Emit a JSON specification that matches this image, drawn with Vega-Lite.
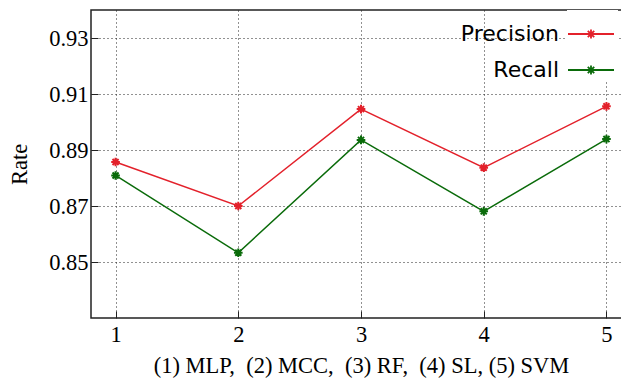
{
  "$schema": "https://vega.github.io/schema/vega-lite/v6.json",
  "autosize": {"type": "none"},
  "padding": {"left": 91, "top": 10, "right": 0, "bottom": 60},
  "width": 540,
  "height": 308,
  "background": "white",
  "config": {
    "view": {"stroke": "#222", "strokeWidth": 1.5},
    "axis": {
      "labelFont": "Liberation Serif",
      "titleFont": "Liberation Serif",
      "labelFontSize": 22.5,
      "titleFontSize": 22.5,
      "labelColor": "black",
      "titleColor": "black",
      "titleFontWeight": "normal",
      "domain": false,
      "grid": true,
      "gridDash": [1, 3],
      "gridColor": "#222",
      "gridWidth": 1,
      "tickColor": "#222",
      "tickSize": -7,
      "tickWidth": 1
    }
  },
  "data": {
    "values": [
      {"model": 1, "series": "Precision", "rate": 0.8857},
      {"model": 2, "series": "Precision", "rate": 0.8700},
      {"model": 3, "series": "Precision", "rate": 0.9046},
      {"model": 4, "series": "Precision", "rate": 0.8837},
      {"model": 5, "series": "Precision", "rate": 0.9056},
      {"model": 1, "series": "Recall", "rate": 0.8809},
      {"model": 2, "series": "Recall", "rate": 0.8533},
      {"model": 3, "series": "Recall", "rate": 0.8936},
      {"model": 4, "series": "Recall", "rate": 0.8681},
      {"model": 5, "series": "Recall", "rate": 0.8939}
    ]
  },
  "encoding": {
    "x": {
      "field": "model", "type": "quantitative",
      "scale": {"domain": [0.8, 5.2], "nice": false, "zero": false},
      "axis": {"values": [1, 2, 3, 4, 5], "format": "d", "labelPadding": 12,
               "title": "(1) MLP,\u00a0 (2) MCC,\u00a0 (3) RF,\u00a0 (4) SL, (5) SVM", "titlePadding": 9}
    },
    "y": {
      "field": "rate", "type": "quantitative",
      "scale": {"domain": [0.83, 0.94], "nice": false, "zero": false},
      "axis": {"values": [0.85, 0.87, 0.89, 0.91, 0.93], "format": ".2f", "labelPadding": 10,
               "title": "Rate", "titlePadding": 17}
    },
    "color": {
      "field": "series", "type": "nominal",
      "scale": {"domain": ["Precision", "Recall"], "range": ["#e3212b", "#0a6b0a"]},
      "legend": {
        "title": null,
        "orient": "none",
        "legendX": 476,
        "legendY": 0,
        "symbolType": "M-1,0H1M0,-0.2V0.2M-0.2,0H0.2M-0.14,-0.14L0.14,0.14M-0.14,0.14L0.14,-0.14",
        "symbolSize": 2116,
        "symbolStrokeWidth": 1.8,
        "symbolOpacity": 1,
        "rowPadding": 1,
        "labelAlign": "right",
        "labelOffset": -56,
        "labelFont": "DejaVu Sans",
        "labelFontSize": 22,
        "labelColor": "black",
        "labelLimit": 200,
        "fillColor": "white",
        "padding": 0
      }
    }
  },
  "layer": [
    {"mark": {"type": "line", "strokeWidth": 1.5}},
    {"mark": {"type": "point", "shape": "M-1,0H1M0,-1V1M-0.7,-0.7L0.7,0.7M-0.7,0.7L0.7,-0.7", "size": 75, "filled": false, "strokeWidth": 2, "opacity": 1}}
  ]
}
